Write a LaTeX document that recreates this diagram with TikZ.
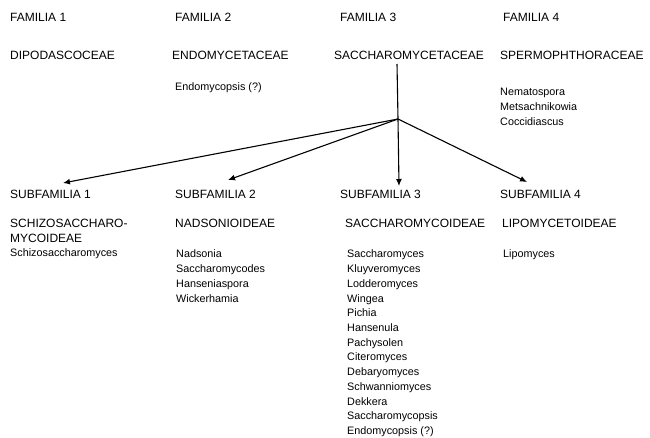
\documentclass[tikz,border=0pt]{standalone}
\usepackage{fontspec}
\setmainfont{Liberation Sans}
\usetikzlibrary{arrows.meta}
\begin{document}
\begin{tikzpicture}[x=1pt,y=-1pt,
  uc/.style={anchor=base west,inner sep=0pt,font=\fontsize{12}{14}\selectfont},
  lc/.style={anchor=base west,inner sep=0pt,font=\fontsize{10.8}{14}\selectfont},
  arr/.style={line width=1.1pt,-{Latex[length=7pt,width=6pt]}},
  ln/.style={line width=1.1pt}]
\useasboundingbox (0,0) rectangle (650,438);
% families
\node[uc] (f1) at (10,22) {FAMILIA 1};
\node[uc] (f2) at (175,22) {FAMILIA 2};
\node[uc] (f3) at (340,22) {FAMILIA 3};
\node[uc] (f4) at (503,22) {FAMILIA 4};
\node[uc] (n1) at (10,60) {DIPODASCOCEAE};
\node[uc] (n2) at (172,60) {ENDOMYCETACEAE};
\node[uc] (n3) at (334,60) {SACCHAROMYCETACEAE};
\node[uc] (n4) at (500,60) {SPERMOPHTHORACEAE};
\node[lc] (g2) at (175,91) {Endomycopsis (?)};
\foreach \t [count=\i] in {Nematospora,Metsachnikowia,Coccidiascus}
  \node[lc] (g4-\i) at (500,96+14.7*\i-14.7) {\t};
% subfamilies
\node[uc] (s1) at (10,199) {SUBFAMILIA 1};
\node[uc] (s2) at (175,199) {SUBFAMILIA 2};
\node[uc] (s3) at (340,199) {SUBFAMILIA 3};
\node[uc] (s4) at (500,199) {SUBFAMILIA 4};
\node[uc] (t1a) at (10,228) {SCHIZOSACCHARO-};
\node[uc] (t1b) at (10,242.5) {MYCOIDEAE};
\node[lc] (h1) at (10,257) {Schizosaccharomyces};
\node[uc] (t2) at (175,228) {NADSONIOIDEAE};
\node[uc] (t3) at (345,228) {SACCHAROMYCOIDEAE};
\node[uc] (t4) at (502,228) {LIPOMYCETOIDEAE};
\foreach \t [count=\i] in {Nadsonia,Saccharomycodes,Hanseniaspora,Wickerhamia}
  \node[lc] (h2-\i) at (176,258+14.7*\i-14.7) {\t};
\foreach \t [count=\i] in {Saccharomyces,Kluyveromyces,Lodderomyces,Wingea,Pichia,Hansenula,Pachysolen,Citeromyces,Debaryomyces,Schwanniomyces,Dekkera,Saccharomycopsis,{Endomycopsis (?)}}
  \node[lc] (h3-\i) at (347,258+14.7*\i-14.7) {\t};
\node[lc] (h4) at (503,258) {Lipomyces};
% connectors
\coordinate (top) at (397,64);
\coordinate (j) at (398,119);
\coordinate (a1) at (63,183);
\coordinate (a2) at (228,180);
\coordinate (a3) at (399,186);
\coordinate (a4) at (527,182);
\draw[ln] (top) -- (j);
\draw[arr] (j) -- (a1);
\draw[arr] (j) -- (a2);
\draw[arr] (j) -- (a3);
\draw[arr] (j) -- (a4);
\end{tikzpicture}
\end{document}
